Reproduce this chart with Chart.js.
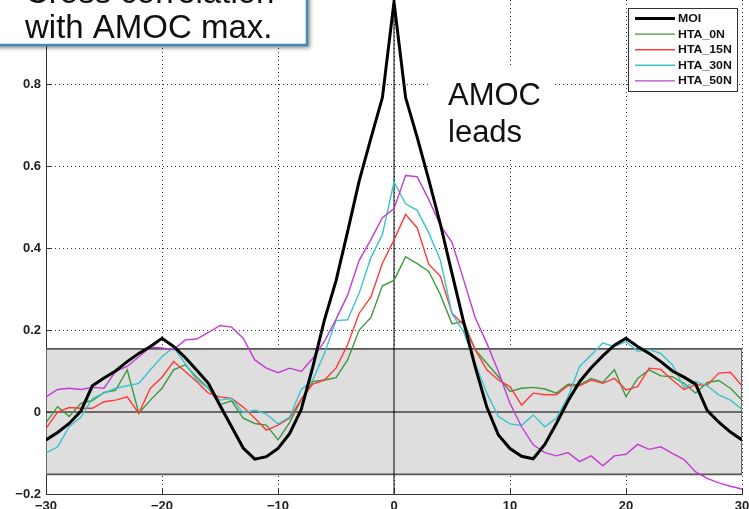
<!DOCTYPE html>
<html><head><meta charset="utf-8">
<script src="https://cdn.jsdelivr.net/npm/chart.js@4.4.0/dist/chart.umd.min.js"></script>
<style>html,body{margin:0;padding:0;background:#fff;overflow:hidden}canvas{display:block}</style>
</head><body>
<canvas id="c" width="749" height="509"></canvas>
<script>
// ---- data ----
const lags = [-30,-29,-28,-27,-26,-25,-24,-23,-22,-21,-20,-19,-18,-17,-16,-15,-14,-13,-12,-11,-10,-9,-8,-7,-6,-5,-4,-3,-2,-1,0,1,2,3,4,5,6,7,8,9,10,11,12,13,14,15,16,17,18,19,20,21,22,23,24,25,26,27,28,29,30];
const seriesNames = ['MOI','HTA_0N','HTA_15N','HTA_30N','HTA_50N'];
const moi = [-0.068,-0.05,-0.028,0.002,0.064,0.083,0.1,0.123,0.143,0.16,0.18,0.16,0.133,0.102,0.07,0.016,-0.036,-0.088,-0.115,-0.109,-0.089,-0.053,0.006,0.11,0.224,0.32,0.44,0.564,0.667,0.767,1.0,0.767,0.67,0.566,0.458,0.338,0.22,0.11,0.012,-0.056,-0.089,-0.108,-0.114,-0.079,-0.028,0.027,0.074,0.108,0.137,0.163,0.18,0.16,0.143,0.123,0.1,0.085,0.068,0.004,-0.025,-0.049,-0.068];
const hta0N = [-0.026,0.013,-0.011,0.021,0.028,0.048,0.053,0.103,-0.003,0.029,0.058,0.103,0.115,0.085,0.058,0.018,0.027,-0.015,-0.028,-0.032,-0.068,-0.026,0.03,0.074,0.078,0.084,0.127,0.2,0.23,0.308,0.321,0.379,0.362,0.343,0.286,0.215,0.221,0.152,0.119,0.086,0.05,0.058,0.06,0.056,0.046,0.068,0.066,0.082,0.072,0.103,0.037,0.082,0.103,0.088,0.086,0.07,0.046,0.072,0.077,0.058,0.029];
const hta15N = [-0.04,0.0,0.011,0.009,0.009,0.025,0.029,0.037,-0.003,0.058,0.085,0.123,0.099,0.074,0.046,0.037,0.033,0.012,-0.015,-0.044,-0.032,-0.015,0.031,0.068,0.078,0.107,0.164,0.241,0.28,0.363,0.42,0.482,0.449,0.36,0.331,0.241,0.213,0.152,0.103,0.078,0.062,0.017,0.046,0.042,0.042,0.064,0.064,0.078,0.07,0.082,0.054,0.062,0.107,0.104,0.078,0.055,0.066,0.066,0.095,0.097,0.064];
const hta30N = [-0.1,-0.085,-0.036,-0.013,0.033,0.046,0.058,0.064,0.07,0.103,0.135,0.158,0.118,0.078,0.058,0.029,0.033,-0.002,0.005,-0.005,-0.029,-0.013,0.055,0.078,0.143,0.223,0.225,0.29,0.376,0.433,0.561,0.508,0.492,0.437,0.37,0.24,0.196,0.119,0.046,-0.011,-0.029,-0.033,-0.007,-0.036,-0.015,0.037,0.111,0.139,0.168,0.16,0.172,0.148,0.152,0.143,0.115,0.06,0.074,0.064,0.042,0.029,0.007];
const hta50N = [0.037,0.055,0.058,0.055,0.06,0.058,0.099,0.111,0.135,0.158,0.156,0.152,0.176,0.178,0.194,0.211,0.207,0.18,0.127,0.107,0.096,0.107,0.099,0.131,0.172,0.226,0.285,0.37,0.42,0.474,0.496,0.577,0.574,0.518,0.455,0.414,0.323,0.23,0.168,0.099,0.021,-0.036,-0.08,-0.099,-0.107,-0.099,-0.121,-0.107,-0.131,-0.107,-0.103,-0.079,-0.091,-0.085,-0.101,-0.116,-0.146,-0.162,-0.173,-0.181,-0.188];
// significance band (polygon outline)
const bandX = [-30, 30, 30, -30, -30];
const bandY = [0.154, 0.154, -0.152, -0.152, 0.154];
// reference lines
const zeroLineX = [-30, 30];
const zeroLineY = [0, 0];
const lagZeroX = [0, 0];
const lagZeroY = [-0.2, 1.005];
// ticks
const xTicks = [-30,-20,-10,0,10,20,30];
const yTicks = [-0.2,0,0.2,0.4,0.6,0.8];
// annotations text
const calloutLines = ['Cross correlation','with AMOC max.'];
const noteLines = ['AMOC','leads'];

// ---- build ----
const pts = (xs, ys) => xs.map((x, i) => ({x, y: ys[i]}));
const seriesVals = [moi, hta0N, hta15N, hta30N, hta50N];
const seriesColors = ['#000000','#3c9a3c','#ff3a3a','#3cc4cc','#c23cd2'];
const seriesWidths = [3, 1.4, 1.4, 1.4, 1.4];

const datasets = seriesNames.map((n, i) => ({
  label: n, data: pts(lags, seriesVals[i]), borderColor: seriesColors[i],
  borderWidth: seriesWidths[i], pointRadius: 0, fill: false, tension: 0,
  order: i === 0 ? 0 : 5 - i
}));
datasets.push({label:'_lag0', data: pts(lagZeroX, lagZeroY), borderColor:'#000', borderWidth:1, pointRadius:0, fill:false, order:8});
datasets.push({label:'_zero', data: pts(zeroLineX, zeroLineY), borderColor:'#444', borderWidth:1.3, pointRadius:0, fill:false, order:9});
datasets.push({label:'_band', data: pts(bandX, bandY), borderColor:'#555', borderWidth:1.7, backgroundColor:'#dedede', pointRadius:0, fill:'shape', order:10});

const minus = v => (v < 0 ? '\u2212' + String(Math.abs(v)) : String(v));
const tickFont = {family:'"Liberation Sans", Arial, sans-serif', size:13, weight:'bold', lineHeight:1.1};

const overlay = {
  id:'overlay',
  afterDraw(chart) {
    const ctx = chart.ctx, ca = chart.chartArea;
    const xs = chart.scales.x, ys = chart.scales.y;
    ctx.save();
    // inward tick marks
    ctx.strokeStyle = '#333'; ctx.lineWidth = 1;
    yTicks.forEach(v => { const y = Math.round(ys.getPixelForValue(v)) + 0.5; ctx.beginPath(); ctx.moveTo(ca.left, y); ctx.lineTo(ca.left + 5, y); ctx.stroke(); });
    xTicks.forEach(v => { const x = Math.round(xs.getPixelForValue(v)) + 0.5; ctx.beginPath(); ctx.moveTo(x, ca.bottom); ctx.lineTo(x, ca.bottom - 5); ctx.stroke(); });

    // legend box
    const lx = 628, ly = 8, lw = 109, lh = 83;
    ctx.fillStyle = '#fff'; ctx.fillRect(lx, ly, lw, lh);
    ctx.strokeStyle = '#333'; ctx.lineWidth = 1; ctx.strokeRect(lx + 0.5, ly + 0.5, lw, lh);
    ctx.font = 'bold 11px "Liberation Sans", Arial, sans-serif';
    ctx.textBaseline = 'middle'; ctx.textAlign = 'left';
    seriesNames.forEach((n, i) => {
      const ds = chart.data.datasets[i];
      const yy = ly + 10.5 + i * 15.6;
      ctx.strokeStyle = ds.borderColor; ctx.lineWidth = ds.borderWidth;
      ctx.beginPath(); ctx.moveTo(635, yy); ctx.lineTo(675, yy); ctx.stroke();
      ctx.fillStyle = '#111';
      ctx.save(); ctx.translate(678, yy + 0.5); ctx.scale(1.12, 1); ctx.fillText(n, 0, 0); ctx.restore();
    });

    // AMOC leads note
    ctx.fillStyle = '#fff'; ctx.fillRect(430, 68, 122, 90);
    ctx.fillStyle = '#111';
    ctx.font = '31px "Liberation Sans", Arial, sans-serif';
    ctx.textBaseline = 'alphabetic';
    ctx.fillText(noteLines[0], 448, 105);
    ctx.fillText(noteLines[1], 448, 142);

    // callout box
    ctx.save();
    ctx.shadowColor = 'rgba(0,0,0,0.45)'; ctx.shadowBlur = 4; ctx.shadowOffsetX = 3; ctx.shadowOffsetY = 3;
    ctx.fillStyle = '#fff'; ctx.fillRect(-10, -10, 317, 55);
    ctx.restore();
    ctx.strokeStyle = '#3d8db3'; ctx.lineWidth = 2.5;
    ctx.strokeRect(-10, -10, 317, 55);
    ctx.fillStyle = '#111';
    ctx.font = '33px "Liberation Sans", Arial, sans-serif';
    ctx.fillText(calloutLines[0], 25, 3);
    ctx.fillText(calloutLines[1], 25, 38);
    ctx.restore();
  }
};

new Chart(document.getElementById('c'), {
  type: 'line',
  data: { datasets },
  options: {
    responsive: false, animation: false,
    layout: {padding: {top:0, right:7, left:0, bottom:0}},
    plugins: {legend:{display:false}, tooltip:{enabled:false}},
    scales: {
      x: {
        type:'linear', min:-30, max:30,
        afterBuildTicks: s => { s.ticks = xTicks.map(v => ({value:v})); },
        afterFit: s => { s.height = 15; s.paddingLeft = 0; s.paddingRight = 0; },
        grid: {color:'#333', lineWidth:1, drawTicks:false, borderDash:[1,3]},
        border: {display:true, color:'#333', width:1, dash:[1,3]},
        ticks: {padding:5, font:tickFont, color:'#222', maxRotation:0, autoSkip:false, callback: v => minus(v)}
      },
      y: {
        type:'linear', min:-0.2, max:1.005,
        afterBuildTicks: s => { s.ticks = yTicks.map(v => ({value:v})); },
        afterFit: s => { s.width = 46; s.paddingTop = 0; s.paddingBottom = 0; },
        grid: {color:'#333', lineWidth:1, drawTicks:false, borderDash:[1,3]},
        border: {display:true, color:'#333', width:1, dash:[1,3]},
        ticks: {padding:5, font:tickFont, color:'#222', autoSkip:false, callback: v => minus(Math.round(v*10)/10)}
      }
    }
  },
  plugins: [overlay]
});
</script>
</body></html>
